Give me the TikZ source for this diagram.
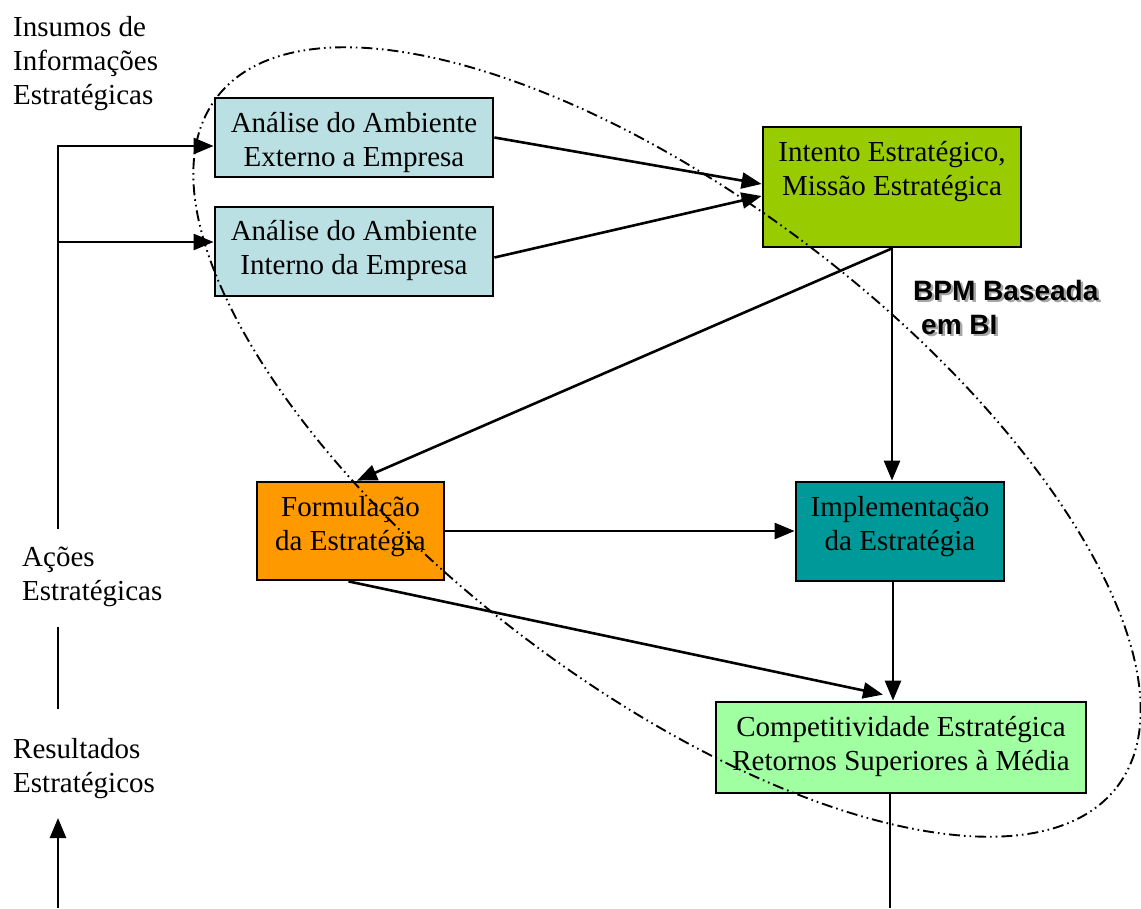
\documentclass[tikz,border=0pt]{standalone}
\usepackage{fontspec}
\setmainfont{Liberation Serif}
\newfontfamily\labelsans{Liberation Sans}
\usetikzlibrary{arrows.meta}

\definecolor{analysisblue}{RGB}{187,224,228}
\definecolor{intentgreen}{RGB}{153,204,0}
\definecolor{formorange}{RGB}{255,153,0}
\definecolor{implteal}{RGB}{0,153,153}
\definecolor{compgreen}{RGB}{160,255,160}

% text with a soft grey shadow offset down and to the right
\newcommand\shadowed[1]{\makebox[0pt][l]{\kern2.5pt\raisebox{-2.5pt}{\textcolor{black!35}{#1}}}#1}

\begin{document}
\begin{tikzpicture}[x=1pt,y=-1pt,
  box/.style={draw=black, line width=2.8pt, inner sep=0pt},
  % multi-line captions are placed by the baseline of their last line
  boxtext/.style={font=\fontsize{29}{34}\selectfont, align=center, anchor=base, inner sep=0pt},
  sidetext/.style={font=\fontsize{29}{34}\selectfont, align=left, anchor=base west, inner sep=0pt},
  link/.style={line width=2.6pt},
  arrow/.style={link, -{Triangle[length=20pt,width=16pt]}},
  bpmregion/.style={line width=1.9pt, dash pattern=on 11pt off 4pt on 1.6pt off 4pt on 1.6pt off 4pt}
]
\useasboundingbox (0,0) rectangle (1141,908);

% process boxes
\node[box, fill=analysisblue, minimum width=278pt, minimum height=79pt] (ext) at (354,137.5) {};
\node[box, fill=analysisblue, minimum width=278pt, minimum height=89pt] (int) at (354,251.5) {};
\node[box, fill=intentgreen, minimum width=258pt, minimum height=120pt] (intent) at (892,187) {};
\node[box, fill=formorange, minimum width=187pt, minimum height=98pt] (form) at (350.5,531) {};
\node[box, fill=implteal, minimum width=208pt, minimum height=99pt] (impl) at (900,531.5) {};
\node[box, fill=compgreen, minimum width=370pt, minimum height=91pt] (comp) at (901,747.5) {};

% box captions
\node[boxtext] (exttext) at (354,166) {Análise do Ambiente\\Externo a Empresa};
\node[boxtext] (inttext) at (354,274) {Análise do Ambiente\\Interno da Empresa};
\node[boxtext] (intenttext) at (892,195) {Intento Estratégico,\\Missão Estratégica};
\node[boxtext] (formtext) at (350.5,550) {Formulação\\da Estratégia};
\node[boxtext] (impltext) at (900,550) {Implementação\\da Estratégia};
\node[boxtext] (comptext) at (901,770) {Competitividade Estratégica\\Retornos Superiores à Média};

% side labels
\node[sidetext] (inputs) at (13,104) {Insumos de\\Informações\\Estratégicas};
\node[sidetext] (actions) at (22,600) {Ações\\Estratégicas};
\node[sidetext] (results) at (13,792) {Resultados\\Estratégicos};

% region label
\node[font=\labelsans\bfseries\fontsize{28}{34}\selectfont, align=left, anchor=base west, inner sep=0pt] (bpm)
  at (913,334) {\shadowed{BPM Baseada}\\\shadowed{\hspace*{8pt}em BI}};

% feedback line on the left
\coordinate (feedtop) at (58,146);
\coordinate (feedmid) at (58,242);
\coordinate (feedbot) at (58,529);
\draw[arrow] (feedbot) -- (feedtop) -- (feedtop -| ext.west);
\draw[arrow] (feedmid) -- (feedmid -| int.west);
\coordinate (acttop) at (58,627);
\coordinate (actbot) at (58,709);
\draw[link] (acttop) -- (actbot);
\coordinate (resin) at (58,908);
\coordinate (restip) at (58,818);
\draw[arrow] (resin) -- (restip);

% main flow
\draw[arrow] (ext.east) -- ([yshift=3pt]intent.west);
\draw[arrow] ([yshift=-6pt]int.east) -- ([yshift=-9pt]intent.west);
\draw[arrow] (intent.south) -- ([xshift=6.5pt]form.north);
\draw[arrow] (intent.south) -- (intent.south |- impl.north);
\draw[arrow] (form.east) -- (form.east -| impl.west);
\draw[arrow] ([xshift=-2pt]form.south) -- ([xshift=-18pt,yshift=6pt]comp.north);
\draw[arrow] ([xshift=-7pt]impl.south) -- ([xshift=-8pt]comp.north);
\coordinate (outflow) at (890,908);
\draw[link] ([xshift=-11pt]comp.south) -- (outflow);

% BPM region outline
\draw[bpmregion, rotate around={-37.45:(667,442)}] (667,442) ellipse [x radius=567pt, y radius=242pt];
\end{tikzpicture}
\end{document}
